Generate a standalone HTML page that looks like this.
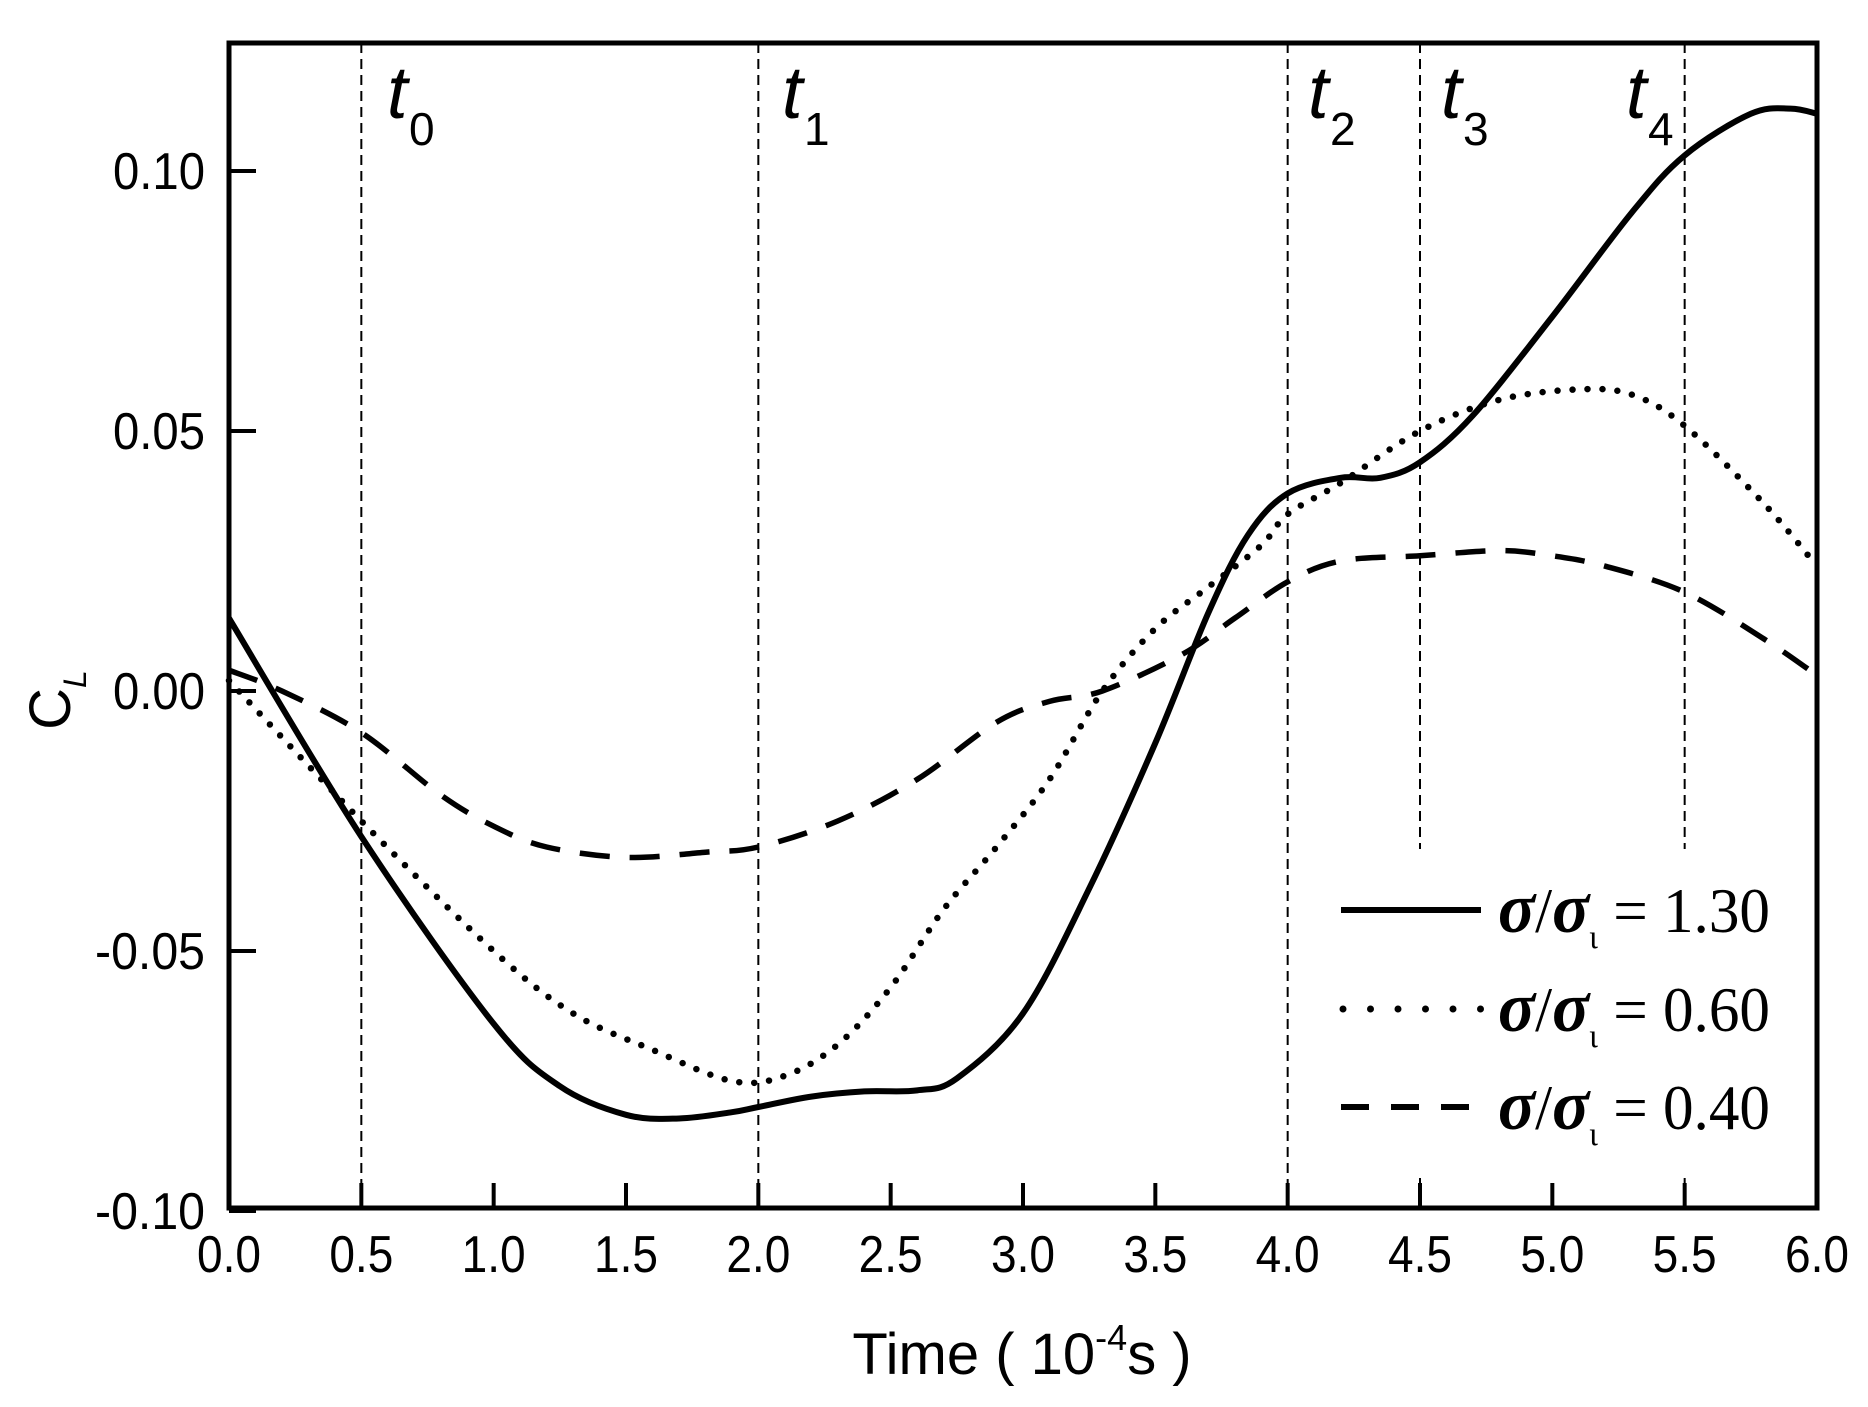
<!DOCTYPE html>
<html><head><meta charset="utf-8"><style>
body{margin:0;background:#fff}
svg text{font-family:"Liberation Sans",sans-serif;fill:#000}
</style></head><body>
<svg id="s" width="1868" height="1402" xmlns="http://www.w3.org/2000/svg">
<g id="g"></g>
</svg>
<script>
const L=229,R=1817,T=43,B=1208;
const X=x=>L+(R-L)*x/6, Y=y=>691-y*5200;
const g=document.getElementById('g');
let h='';
[[0.5,0],[2,0],[4,0],[4.5,1],[5.5,1]].forEach(([x,gap])=>{
 const xx=X(x);
 if(gap){h+=`<line x1="${xx}" y1="${T}" x2="${xx}" y2="849" stroke="#000" stroke-width="2" stroke-dasharray="10 6"/>`;
 h+=`<line x1="${xx}" y1="1178" x2="${xx}" y2="${B}" stroke="#000" stroke-width="2" stroke-dasharray="10 6"/>`;}
 else h+=`<line x1="${xx}" y1="${T}" x2="${xx}" y2="${B}" stroke="#000" stroke-width="2" stroke-dasharray="10 6"/>`;
});
function path(pts){
 const p=pts.map(([x,y])=>[X(x),Y(y)]);
 let d=`M${p[0][0]},${p[0][1]}`;
 for(let i=0;i<p.length-1;i++){
  const p0=p[i-1]||p[i],p1=p[i],p2=p[i+1],p3=p[i+2]||p[i+1];
  const c1=[p1[0]+(p2[0]-p0[0])/6,p1[1]+(p2[1]-p0[1])/6];
  const c2=[p2[0]-(p3[0]-p1[0])/6,p2[1]-(p3[1]-p1[1])/6];
  d+=` C${c1[0]},${c1[1]} ${c2[0]},${c2[1]} ${p2[0]},${p2[1]}`;
 }
 return d;
}
const solid=[[0,0.014],[0.5,-0.028],[1.0,-0.064],[1.25,-0.076],[1.5,-0.0815],[1.7,-0.0822],[1.9,-0.081],[2.0,-0.080],[2.2,-0.078],[2.4,-0.077],[2.6,-0.0768],[2.75,-0.0745],[3.0,-0.062],[3.25,-0.038],[3.5,-0.010],[3.7,0.015],[3.85,0.030],[4.0,0.038],[4.2,0.041],[4.35,0.041],[4.5,0.044],[4.7,0.053],[5.0,0.072],[5.3,0.092],[5.5,0.103],[5.75,0.111],[5.9,0.112],[6.0,0.111]];
const dot=[[0,0.002],[0.5,-0.025],[1.0,-0.05],[1.3,-0.062],[1.6,-0.069],[1.9,-0.075],[2.1,-0.074],[2.3,-0.068],[2.5,-0.057],[2.7,-0.042],[2.9,-0.030],[3.1,-0.017],[3.3,0.000],[3.5,0.012],[3.7,0.020],[3.9,0.028],[4.0,0.034],[4.2,0.040],[4.5,0.050],[4.8,0.056],[5.1,0.058],[5.3,0.057],[5.5,0.051],[5.8,0.036],[6.0,0.024]];
const dash=[[0,0.004],[0.2,0.0],[0.5,-0.008],[0.8,-0.020],[1.0,-0.026],[1.2,-0.030],[1.5,-0.032],[1.8,-0.031],[2.0,-0.030],[2.3,-0.025],[2.6,-0.017],[2.9,-0.006],[3.1,-0.002],[3.3,0.000],[3.6,0.007],[3.8,0.014],[4.0,0.021],[4.2,0.025],[4.5,0.026],[4.8,0.027],[5.0,0.026],[5.2,0.024],[5.5,0.019],[5.8,0.010],[6.0,0.003]];
h+=`<path d="${path(solid)}" fill="none" stroke="#000" stroke-width="6"/>`;
h+=`<path d="${path(dot)}" fill="none" stroke="#000" stroke-width="6.5" stroke-linecap="round" stroke-dasharray="0 15"/>`;
h+=`<path d="${path(dash)}" fill="none" stroke="#000" stroke-width="5.5" stroke-dasharray="30 20"/>`;
h+=`<rect x="${L}" y="${T}" width="${R-L}" height="${B-T}" fill="none" stroke="#000" stroke-width="5"/>`;
for(let i=0;i<=12;i++){const x=X(i/2);
 h+=`<line x1="${x}" y1="${B}" x2="${x}" y2="${B-25}" stroke="#000" stroke-width="4"/>`;
 h+=`<text x="${x}" y="1272" font-size="52" text-anchor="middle" textLength="64" lengthAdjust="spacingAndGlyphs">${(i/2).toFixed(1)}</text>`;}
[[0.10,'0.10'],[0.05,'0.05'],[0,'0.00'],[-0.05,'-0.05'],[-0.10,'-0.10']].forEach(([v,s])=>{
 const y=Y(v);
 h+=`<line x1="${L}" y1="${y}" x2="${L+27}" y2="${y}" stroke="#000" stroke-width="4"/>`;
 h+=`<text x="205" y="${y+18}" font-size="52" text-anchor="end" textLength="${s.length==5?110:92}" lengthAdjust="spacingAndGlyphs">${s}</text>`;});
h+=`<text x="1022" y="1374" font-size="58" text-anchor="middle">Time ( 10<tspan font-size="36" dy="-24">-4</tspan><tspan dy="24">s )</tspan></text>`;
h+=`<text transform="translate(70,700) rotate(-90)" font-size="58" text-anchor="middle">C<tspan font-size="32" font-style="italic" dy="16">L</tspan></text>`;
[[387,'0'],[782,'1'],[1308,'2'],[1441,'3'],[1626,'4']].forEach(([x,s])=>{
 h+=`<text x="${x}" y="118" font-size="74" font-style="italic">t</text><text x="${x+22}" y="145" font-size="46">${s}</text>`;});
const rows=[[910,'1.30'],[1009,'0.60'],[1107,'0.40']];
rows.forEach(([y,v],i)=>{
 if(i==1) h+=`<line x1="1343" y1="${y}" x2="1481" y2="${y}" stroke="#000" stroke-width="7" stroke-linecap="round" stroke-dasharray="0 27.5"/>`;
 else if(i==0) h+=`<line x1="1341" y1="${y}" x2="1481" y2="${y}" stroke="#000" stroke-width="6"/>`;
 else h+=`<line x1="1341" y1="${y}" x2="1481" y2="${y}" stroke="#000" stroke-width="6" stroke-dasharray="28 22"/>`;
 h+=`<text x="1498" y="${y+22}" font-size="64" textLength="272" lengthAdjust="spacingAndGlyphs" style="font-family:'Liberation Serif',serif"><tspan font-weight="bold" font-style="italic" font-size="72">σ</tspan>/<tspan font-weight="bold" font-style="italic" font-size="72">σ</tspan><tspan font-size="34" dy="16">ι</tspan><tspan dy="-16"> = ${v}</tspan></text>`;
});
g.innerHTML=h;
</script>
</body></html>
